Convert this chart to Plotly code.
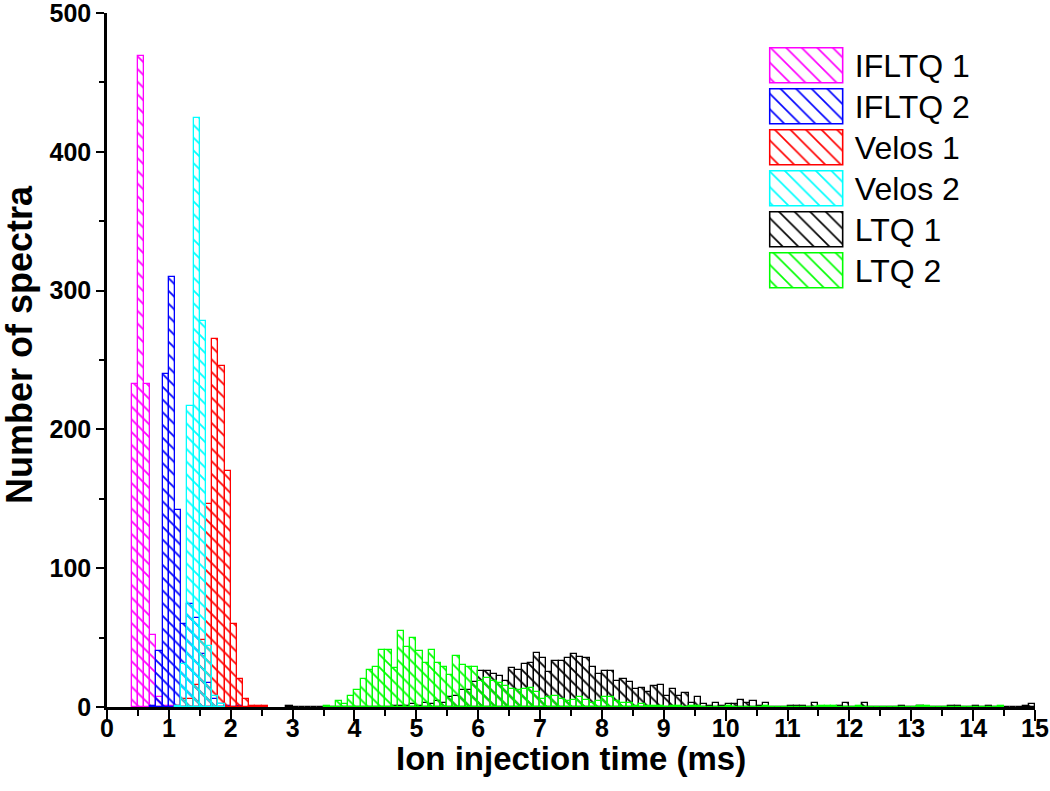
import plotly.graph_objects as go

# ---------------- data (bin width 0.1 ms; each list starts at its bin_start) ----------------
bin_width = 0.1
series_names = ["IFLTQ 1", "IFLTQ 2", "Velos 1", "Velos 2", "LTQ 1", "LTQ 2"]
series_colors = ["#FF00FF", "#0000FF", "#FF0000", "#00FFFF", "#000000", "#00FF00"]

ifltq1_start = 0.4
ifltq1_counts = [233, 469, 233, 52, 7, 1, 1, 1]

ifltq2_start = 0.7
ifltq2_counts = [1, 40, 240, 310, 142, 60, 74, 64, 38, 17, 6, 2, 1, 0, 1]

velos1_start = 1.1
velos1_counts = [1, 6, 6, 16, 48, 146, 265, 246, 170, 60, 20, 6, 1, 1, 1]

velos2_start = 1.1
velos2_counts = [1, 31, 217, 424, 278, 44, 8, 2]

ltq1_start = 2.9
ltq1_counts = [1, 0, 0, 0, 0, 0, 0, 0, 0, 0, 0, 0, 0, 0, 0, 0, 0,
               1, 1, 1, 2, 1, 3, 2, 4, 3, 7, 8, 12, 12, 18,
               26, 26, 24, 22, 19, 28, 27, 31, 32, 39,
               35, 25, 33, 33, 35, 38, 36, 35, 29, 24,
               26, 26, 19, 20, 18, 13, 14, 11, 15, 16,
               8, 13, 8, 10, 3, 7, 2, 1, 3, 1,
               2, 2, 5, 3, 4, 1, 3, 0, 0, 0,
               1, 1, 1, 0, 3, 0, 0, 0, 1, 3,
               0, 0, 3, 0, 0, 0, 0, 0, 1, 0,
               0, 1, 0, 0, 0, 0, 1, 1, 0, 0,
               1, 0, 1, 0, 0, 0, 0, 0, 1, 2]

ltq2_start = 3.5
ltq2_counts = [1, 0, 4, 2, 8,
               12, 20, 27, 29, 41, 41, 28, 55, 43, 50,
               40, 32, 41, 32, 29, 23, 37, 30, 29, 29,
               19, 21, 19, 17, 15, 13, 12, 13, 14, 11,
               6, 7, 8, 6, 4, 5, 7, 5, 3, 4,
               7, 7, 4, 3, 3, 1, 2, 1, 1, 1,
               0, 1, 1, 0, 1, 1, 0, 0, 0, 0,
               1, 0, 0, 0, 0, 0, 1, 0, 0, 0,
               0, 0, 0, 0, 0, 1, 1, 1, 0, 0,
               0, 1, 0, 0, 0, 0, 0, 0, 0, 0,
               0, 1, 1, 0, 0, 0, 0, 0, 0, 0,
               0, 0, 0, 0, 1]

series_starts = [ifltq1_start, ifltq2_start, velos1_start, velos2_start, ltq1_start, ltq2_start]
series_counts = [ifltq1_counts, ifltq2_counts, velos1_counts, velos2_counts, ltq1_counts, ltq2_counts]

x_title = "Ion injection time (ms)"
y_title = "Number of spectra"

# ---------------- figure ----------------
FAM = "Liberation Sans, Arial, sans-serif"
TICK_FONT = dict(family=FAM, size=25, color="black", weight="bold")
XTITLE_FONT = dict(family=FAM, size=33, color="black", weight="bold")
YTITLE_FONT = dict(family=FAM, size=36, color="black", weight="bold")
LEG_FONT = dict(family=FAM, size=32, color="black")

fig = go.Figure()

for name, color, start, counts in zip(series_names, series_colors, series_starts, series_counts):
    centers = [round(start + bin_width * (i + 0.5), 4) for i in range(len(counts))]
    fig.add_trace(go.Bar(
        x=centers, y=counts, width=bin_width, name=name, showlegend=False,
        marker=dict(color="rgba(0,0,0,0)",
                    line=dict(color=color, width=1.3),
                    pattern=dict(shape="\\", fillmode="replace", fgcolor=color,
                                 bgcolor="rgba(0,0,0,0)", size=9, solidity=0.2)),
    ))

# legend drawn as patterned boxes on a small helper axis
for name, color in zip(series_names, series_colors):
    fig.add_trace(go.Bar(
        x=[1], y=[name], base=0, orientation="h", width=0.87, showlegend=False,
        xaxis="x2", yaxis="y2",
        marker=dict(color="rgba(0,0,0,0)",
                    line=dict(color=color, width=1.6),
                    pattern=dict(shape="\\", fillmode="replace", fgcolor=color,
                                 bgcolor="rgba(0,0,0,0)", size=11, solidity=0.15)),
        hoverinfo="skip",
    ))

fig.update_layout(
    width=1050, height=791,
    margin=dict(l=107, r=15, t=13, b=84),
    paper_bgcolor="white", plot_bgcolor="white",
    barmode="overlay", bargap=0,
    xaxis=dict(range=[0, 15], tick0=0, dtick=1, showline=True, linecolor="black", linewidth=2.5,
               ticks="outside", ticklen=11, tickwidth=2, tickcolor="black",
               minor=dict(dtick=0.5, ticks="outside", ticklen=6, tickwidth=2, tickcolor="black"),
               showgrid=False, zeroline=False, tickfont=TICK_FONT, automargin=False,
               ticklabeloverflow="allow", ticklabelstandoff=-14),
    yaxis=dict(range=[0, 500], tick0=0, dtick=100, showline=True, linecolor="black", linewidth=2.5,
               ticks="outside", ticklen=8, tickwidth=2, tickcolor="black",
               minor=dict(dtick=50, ticks="outside", ticklen=5, tickwidth=2, tickcolor="black"),
               showgrid=False, zeroline=False, tickfont=TICK_FONT, automargin=False,
               ticklabeloverflow="allow"),
    xaxis2=dict(domain=[0.7128, 0.7962], range=[-0.03, 1.03], visible=False, anchor="y2"),
    yaxis2=dict(domain=[0.5985, 0.953], anchor="x2", side="right", type="category",
                categoryorder="array", categoryarray=series_names, autorange="reversed",
                showline=False, showgrid=False, zeroline=False, ticks="", ticklabelstandoff=8,
                tickfont=LEG_FONT, automargin=False, ticklabeloverflow="allow"),
    annotations=[
        dict(text=x_title, xref="paper", yref="paper", x=0.5, y=-0.0749,
             xanchor="center", yanchor="middle", showarrow=False, font=XTITLE_FONT),
        dict(text=y_title, xref="paper", yref="paper", x=-0.0948, y=0.5216, textangle=-90,
             xanchor="center", yanchor="middle", showarrow=False, font=YTITLE_FONT),
    ],
)

fig.write_html("out.html", config={"displayModeBar": False},
               post_script="document.body.style.margin='0';")
